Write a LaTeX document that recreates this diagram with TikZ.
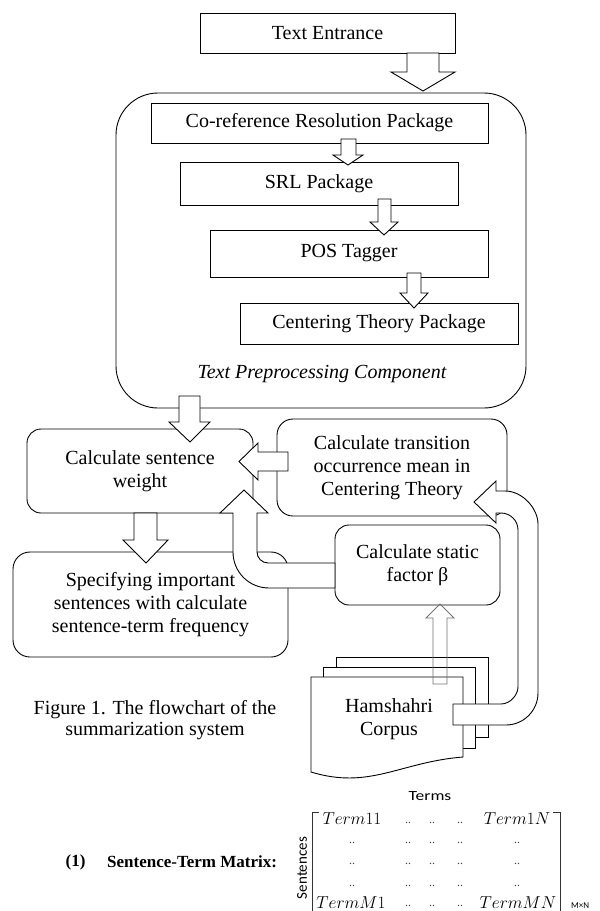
\documentclass[tikz,border=0pt]{standalone}
\usepackage{fontspec}
\setmainfont{Liberation Serif}
\newfontfamily\calfont{Carlito}
\usepackage{graphicx}
\newcommand\mainsz{\fontsize{20}{23}\selectfont}
\begin{document}
\begin{tikzpicture}[x=1pt,y=-1pt,
  box/.style={draw, line width=0.9pt, inner sep=0pt, align=center, font=\mainsz, fill=white},
  rbox/.style={box, rounded corners=14pt},
  barrow/.style={draw, line width=0.9pt, fill=white, line join=miter},
  garrow/.style={draw=black!55, line width=0.8pt},
  plain/.style={inner sep=0pt, align=center},
  page/.style={draw, line width=0.9pt, fill=white},
  dotsty/.style={inner sep=0pt, font=\fontsize{12}{12}\selectfont, text=black!75},
  ment/.style={inner sep=0pt, font=\fontsize{17}{17}\selectfont}]
\clip (0,0) rectangle (600,911);
\fill[white] (0,0) rectangle (600,911);

% ---- preprocessing part ----
\node[box, minimum width=255pt, minimum height=40pt] (te) at (327.5,33) {Text Entrance};
\node[draw, line width=0.9pt, rounded corners=42pt, minimum width=410pt, minimum height=315pt, inner sep=0pt] (tpc) at (321,250.5) {};
\node[box, minimum width=337pt, minimum height=40pt] (co) at (319.5,123) {Co-reference Resolution Package};
\node[box, minimum width=278pt, minimum height=43pt] (srl) at (319,183.5) {SRL Package};
\node[box, minimum width=278pt, minimum height=47pt] (pos) at (349,253.5) {POS Tagger};
\node[box, minimum width=278pt, minimum height=41pt] (ctp) at (379,323.5) {Centering Theory Package};
\node[plain, font=\mainsz\itshape] (tpclabel) at (322,374) {Text Preprocessing Component};

\draw[barrow] (407,53) -- (439,53) -- (439,72) -- (455,72) -- (423,91) -- (391,72) -- (407,72) -- cycle;
\draw[barrow] (341,139) -- (356,139) -- (356,155) -- (363,155) -- (348,165) -- (333,155) -- (341,155) -- cycle;
\draw[barrow] (378,199) -- (391,199) -- (391,222) -- (398,222) -- (384,235) -- (370,222) -- (378,222) -- cycle;
\draw[barrow] (407,273) -- (421,273) -- (421,293) -- (428,293) -- (414,308) -- (400,293) -- (407,293) -- cycle;

% ---- lower part ----
\node[rbox, minimum width=226pt, minimum height=84pt] (weight) at (140,471) {Calculate sentence\\weight};
\node[rbox, minimum width=230pt, minimum height=97pt, rounded corners=16pt] (trans) at (392,467.5) {Calculate transition\\occurrence mean in\\Centering Theory};
\node[rbox, minimum width=275pt, minimum height=105pt, rounded corners=17pt] (spec) at (150.5,604.5) {Specifying important\\sentences with calculate\\sentence-term frequency};
\node[rbox, minimum width=165pt, minimum height=80pt] (stat) at (417.5,565) {Calculate static\\factor β};

% corpus (stack of documents)
\draw[page] (336,657) rectangle (488,737);
\draw[page] (323,667) rectangle (475,748);
\draw[page] (311,677) -- (463,677) -- (463,757) .. controls (400,762) and (370,790) .. (311,772) -- cycle;
\node[plain, font=\mainsz] (corpus) at (389,719) {Hamshahri\\Corpus};

% block arrows
\draw[barrow] (179,396) -- (200,396) -- (200,422) -- (210,422) -- (190,442) -- (169,422) -- (179,422) -- cycle;
\draw[barrow] (134,513) -- (157,513) -- (157,540) -- (168,540) -- (146,563) -- (123,540) -- (134,540) -- cycle;
\draw[barrow] (288,452) -- (258,452) -- (258,443) -- (239,461.5) -- (258,480) -- (258,471) -- (288,471) -- cycle;
\draw[barrow] (335,563) -- (268,563) .. controls (262,563) and (257,558) .. (257,552) -- (257,513) -- (268,513) -- (244,490) -- (220,513) -- (233,513) -- (233,552) .. controls (233,572) and (249,588) .. (269,588) -- (335,588) -- cycle;
\draw[barrow] (453,704) -- (501,704) .. controls (510.4,704) and (518,694.6) .. (518,687) -- (518,530) .. controls (518,520.6) and (510.4,513) .. (501,513) -- (496,513) -- (496,523) -- (474,502) -- (496,481) -- (496,491) -- (505,491) .. controls (523,491) and (538,509) .. (538,524) -- (538,693) .. controls (538,710.6) and (523.6,725) .. (506,725) -- (453,725) -- cycle;
\draw[garrow] (433,684) -- (433,618) -- (426,618) -- (440,604) -- (454,618) -- (447,618) -- (447,684) -- cycle;

% caption
\node[plain, font=\fontsize{20}{21}\selectfont] (caption) at (155,720) {Figure 1. The flowchart of the\\summarization system};

% ---- matrix ----
\node[plain, font=\fontsize{17}{17}\selectfont\bfseries] (eqn) at (75.5,862) {(1)};
\node[plain, anchor=west, font=\fontsize{17}{17}\selectfont\bfseries] (stm) at (107,862) {Sentence-Term Matrix:};
\node[plain, font=\calfont\fontsize{14}{14}\selectfont] (terms) at (430,796) {\scalebox{1.25}[1]{Terms}};
\node[plain, rotate=90, font=\calfont\fontsize{15}{15}\selectfont] (sent) at (302,868) {Sentences};
\draw[line width=0.8pt, black!80] (319,812) -- (312,812) -- (312,911);
\draw[line width=0.8pt, black!80] (553,812) -- (560,812) -- (560,911);

\node[ment] (m11) at (352,819) {$Term11$};
\node[ment] (m1n) at (517,819) {$Term1N$};
\node[ment] (mm1) at (351,903) {$TermM1$};
\node[ment] (mmn) at (518,903) {$TermMN$};
\foreach \c [count=\i] in {408,432,460}{
  \node[dotsty] (da\i) at (\c,823) {..};
  \node[dotsty] (de\i) at (\c,906) {..};
}
\foreach \r [count=\j] in {843,864,886}{
  \foreach \c [count=\i] in {352,408,432,460,517}{
    \node[dotsty] (dr\j\i) at (\c,\r) {..};
  }
}
\node[plain, anchor=west, font=\calfont\fontsize{9}{9}\selectfont] (mn) at (571,906) {M×N};
\end{tikzpicture}
\end{document}
